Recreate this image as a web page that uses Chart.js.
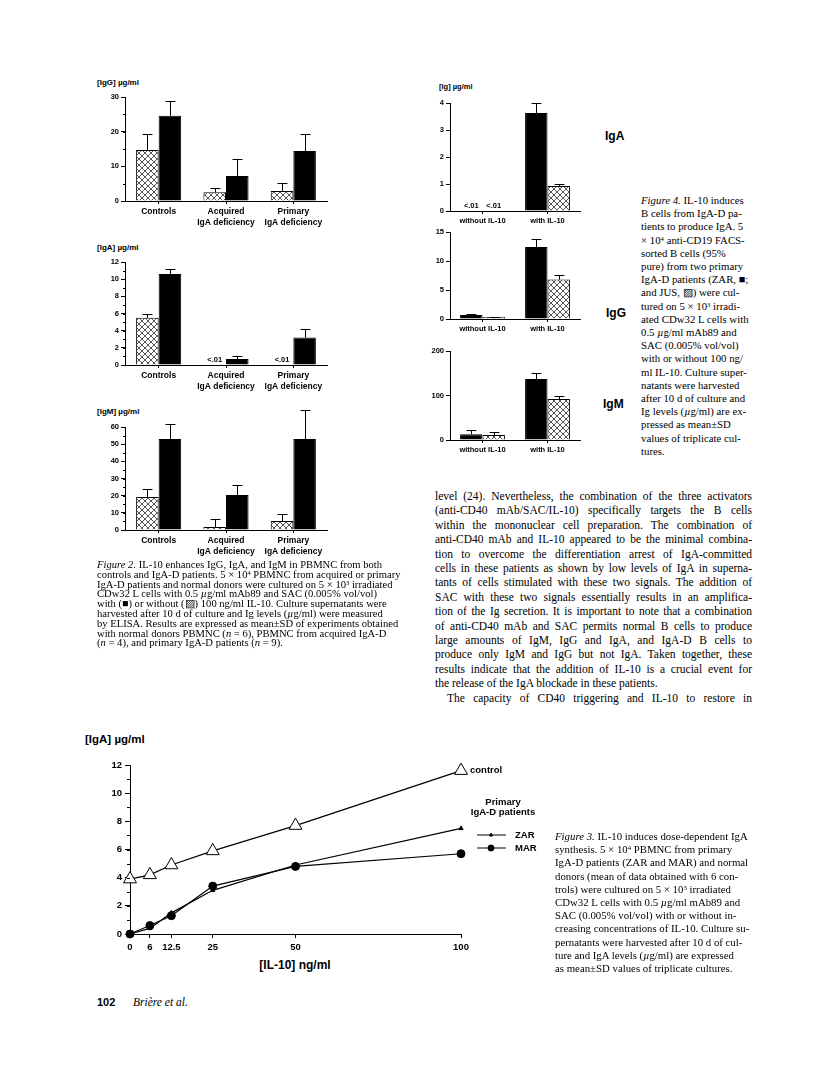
<!DOCTYPE html>
<html>
<head>
<meta charset="utf-8">
<script src="https://cdn.jsdelivr.net/npm/chart.js@4.4.1/dist/chart.umd.min.js"></script>
<style>
body { margin: 0; background: #fff; }
#page { position: relative; width: 816px; height: 1078px; overflow: hidden; background: #fff; }
canvas { position: absolute; }
.lbl { position: absolute; font-family: "Liberation Sans", Arial, sans-serif; font-weight: bold; color: #000; white-space: nowrap; line-height: 1; }
.col { position: absolute; font-family: "Liberation Serif", "Times New Roman", serif; color: #000; }
.col div { white-space: nowrap; }
sup { font-size: 0.62em; vertical-align: 0.5em; line-height: 0; }
</style>
</head>
<body>
<div id="page">

<div class="lbl" style="left:97px;top:79px;font-size:8px">[IgG] µg/ml</div>
<div class="lbl" style="left:97px;top:244px;font-size:8px">[IgA] µg/ml</div>
<div class="lbl" style="left:97px;top:408px;font-size:8px">[IgM] µg/ml</div>
<div class="lbl" style="left:439px;top:83px;font-size:7.5px">[Ig] µg/ml</div>
<div class="lbl" style="left:605px;top:130px;font-size:12px">IgA</div>
<div class="lbl" style="left:606px;top:307px;font-size:12px">IgG</div>
<div class="lbl" style="left:603px;top:398px;font-size:12px">IgM</div>
<div class="lbl" style="left:85px;top:734px;font-size:11.5px">[IgA] µg/ml</div>
<div class="lbl" style="left:235px;top:959px;width:120px;text-align:center;font-size:12px">[IL-10] ng/ml</div>

<canvas id="igg-left"></canvas>
<canvas id="iga-left"></canvas>
<canvas id="igm-left"></canvas>
<canvas id="iga-right"></canvas>
<canvas id="igg-right"></canvas>
<canvas id="igm-right"></canvas>
<canvas id="dose"></canvas>

<div class="col ragged" style="left:97px;top:560px;width:312px;font-size:10.6px;line-height:9.8px">
<div><i>Figure 2.</i> IL-10 enhances IgG, IgA, and IgM in PBMNC from both</div>
<div>controls and IgA-D patients. 5 × 10<sup>4</sup> PBMNC from acquired or primary</div>
<div>IgA-D patients and normal donors were cultured on 5 × 10<sup>3</sup> irradiated</div>
<div>CDw32 L cells with 0.5 <i>µ</i>g/ml mAb89 and SAC (0.005% vol/vol)</div>
<div>with (■) or without (▨) 100 ng/ml IL-10. Culture supernatants were</div>
<div>harvested after 10 d of culture and Ig levels (<i>µ</i>g/ml) were measured</div>
<div>by ELISA. Results are expressed as mean±SD of experiments obtained</div>
<div>with normal donors PBMNC (<i>n</i> = 6), PBMNC from acquired IgA-D</div>
<div>(<i>n</i> = 4), and primary IgA-D patients (<i>n</i> = 9).</div>
</div>

<div class="col ragged" style="left:641px;top:194px;width:112px;font-size:10.8px;line-height:13.2px">
<div><i>Figure 4.</i> IL-10 induces</div>
<div>B cells from IgA-D pa-</div>
<div>tients to produce IgA. 5</div>
<div>× 10<sup>4</sup> anti-CD19 FACS-</div>
<div>sorted B cells (95%</div>
<div>pure) from two primary</div>
<div>IgA-D patients (ZAR, ■;</div>
<div>and JUS, ▨) were cul-</div>
<div>tured on 5 × 10<sup>3</sup> irradi-</div>
<div>ated CDw32 L cells with</div>
<div>0.5 <i>µ</i>g/ml mAb89 and</div>
<div>SAC (0.005% vol/vol)</div>
<div>with or without 100 ng/</div>
<div>ml IL-10. Culture super-</div>
<div>natants were harvested</div>
<div>after 10 d of culture and</div>
<div>Ig levels (<i>µ</i>g/ml) are ex-</div>
<div>pressed as mean±SD</div>
<div>values of triplicate cul-</div>
<div>tures.</div>
</div>

<div class="col" style="left:435px;top:489px;width:317px;font-size:11.5px;line-height:14.4px">
<div>level (24). Nevertheless, the combination of the three activators</div>
<div>(anti-CD40 mAb/SAC/IL-10) specifically targets the B cells</div>
<div>within the mononuclear cell preparation. The combination of</div>
<div>anti-CD40 mAb and IL-10 appeared to be the minimal combina-</div>
<div>tion to overcome the differentiation arrest of IgA-committed</div>
<div>cells in these patients as shown by low levels of IgA in superna-</div>
<div>tants of cells stimulated with these two signals. The addition of</div>
<div>SAC with these two signals essentially results in an amplifica-</div>
<div>tion of the Ig secretion. It is important to note that a combination</div>
<div>of anti-CD40 mAb and SAC permits normal B cells to produce</div>
<div>large amounts of IgM, IgG and IgA, and IgA-D B cells to</div>
<div>produce only IgM and IgG but not IgA. Taken together, these</div>
<div>results indicate that the addition of IL-10 is a crucial event for</div>
<div class="end">the release of the IgA blockade in these patients.</div>
<div style="padding-left:12px">The capacity of CD40 triggering and IL-10 to restore in</div>
</div>

<div class="col ragged" style="left:555px;top:830px;width:200px;font-size:10.8px;line-height:13.2px">
<div><i>Figure 3.</i> IL-10 induces dose-dependent IgA</div>
<div>synthesis. 5 × 10<sup>4</sup> PBMNC from primary</div>
<div>IgA-D patients (ZAR and MAR) and normal</div>
<div>donors (mean of data obtained with 6 con-</div>
<div>trols) were cultured on 5 × 10<sup>3</sup> irradiated</div>
<div>CDw32 L cells with 0.5 <i>µ</i>g/ml mAb89 and</div>
<div>SAC (0.005% vol/vol) with or without in-</div>
<div>creasing concentrations of IL-10. Culture su-</div>
<div>pernatants were harvested after 10 d of cul-</div>
<div>ture and IgA levels (<i>µ</i>g/ml) are expressed</div>
<div>as mean±SD values of triplicate cultures.</div>
</div>

<div class="lbl" style="left:97px;top:997px;font-size:11px">102</div>
<div class="col ragged" style="left:133px;top:995px;font-size:11.5px;line-height:14px"><i>Brière et al.</i></div>

</div>

<script>
// Figure 2: PBMNC with / without IL-10 (mean and SD, µg/ml)
const groups = [['Controls'], ['Acquired', 'IgA deficiency'], ['Primary', 'IgA deficiency']];

const iggWithout = [14.7, 2.5, 2.9];
const iggWithoutSd = [4.6, 1.2, 2.2];
const iggWith = [24.6, 7.2, 14.4];
const iggWithSd = [4.2, 4.8, 5.0];

const igaWithout = [5.5, null, null];
const igaWithoutSd = [0.4, null, null];
const igaWithoutNotes = [null, '<.01', '<.01'];
const igaWith = [10.6, 0.7, 3.2];
const igaWithSd = [0.6, 0.35, 1.0];

const igmWithout = [19.2, 1.7, 5.2];
const igmWithoutSd = [4.7, 4.7, 4.1];
const igmWith = [53, 20.4, 53];
const igmWithSd = [8.7, 5.8, 17];

// Figure 4: sorted B cells, ZAR (black) and JUS (hatched)
const conditions = ['without IL-10', 'with IL-10'];

const igaZar = [null, 3.63];
const igaZarSd = [null, 0.37];
const igaJus = [null, 0.93];
const igaJusSd = [null, 0.07];
const igaLowNotes = ['<.01', null];

const iggZar = [0.7, 12.4];
const iggZarSd = [0.1, 1.4];
const iggJus = [0.35, 6.8];
const iggJusSd = [0.05, 0.8];

const igmZar = [13, 137];
const igmZarSd = [9, 13];
const igmJus = [11, 92];
const igmJusSd = [8, 7];

// Figure 3: IgA vs IL-10 dose
const doses = [0, 6, 12.5, 25, 50, 100];
const doseTicks = [0, 6, 12.5, 25, 50, 100];
const controlIga = [3.9, 4.2, 4.9, 5.9, 7.7, 11.6];
const zarIga = [0, 0.4, 1.5, 3.1, 4.9, 7.5];
const marIga = [0, 0.6, 1.3, 3.4, 4.8, 5.7];

const SANS = '"Liberation Sans", Arial, sans-serif';

function hatchPattern() {
    const t = document.createElement('canvas');
    t.width = t.height = 6;
    const g = t.getContext('2d');
    g.fillStyle = '#fff';
    g.fillRect(0, 0, 6, 6);
    g.fillStyle = '#555';
    for (let i = 0; i < 6; i++) {
        g.fillRect(i, i, 1, 1);
        g.fillRect(5 - i, i, 1, 1);
    }
    return t.getContext('2d').createPattern(t, 'repeat');
}
const hatch = hatchPattern();

const errorBars = {
    id: 'errorBars',
    afterDatasetsDraw(chart) {
        const ctx = chart.ctx, y = chart.scales.y;
        ctx.save();
        ctx.strokeStyle = '#000';
        ctx.lineWidth = 1;
        chart.data.datasets.forEach((ds, i) => {
            if (!ds.errors) return;
            chart.getDatasetMeta(i).data.forEach((bar, j) => {
                const v = ds.data[j], e = ds.errors[j];
                if (v == null || e == null) return;
                const top = Math.round(y.getPixelForValue(v + e)) + 0.5;
                const base = y.getPixelForValue(v);
                const x = Math.round(bar.x) + 0.5;
                const half = bar.width * 0.22;
                ctx.beginPath();
                ctx.moveTo(x, base);
                ctx.lineTo(x, top);
                ctx.moveTo(x - half, top);
                ctx.lineTo(x + half, top);
                ctx.stroke();
            });
        });
        ctx.restore();
    }
};

const lowNotes = {
    id: 'lowNotes',
    afterDatasetsDraw(chart, args, opts) {
        const ctx = chart.ctx, y = chart.scales.y;
        ctx.save();
        ctx.fillStyle = '#000';
        ctx.font = 'bold ' + (opts.size || 8) + 'px ' + SANS;
        ctx.textAlign = 'center';
        ctx.textBaseline = 'bottom';
        chart.data.datasets.forEach((ds, i) => {
            if (!ds.notes) return;
            chart.getDatasetMeta(i).data.forEach((bar, j) => {
                if (ds.notes[j]) ctx.fillText(ds.notes[j], bar.x, y.bottom - 1);
            });
        });
        ctx.restore();
    }
};

const minorTicks = {
    id: 'minorTicks',
    afterDraw(chart, args, opts) {
        if (!opts.step) return;
        const s = chart.scales.y, ctx = chart.ctx;
        ctx.save();
        ctx.strokeStyle = '#000';
        ctx.lineWidth = 1;
        for (let v = s.min; v <= s.max + 1e-9; v += opts.step) {
            const py = Math.round(s.getPixelForValue(v)) + 0.5;
            ctx.beginPath();
            ctx.moveTo(s.right - (opts.len || 2), py);
            ctx.lineTo(s.right, py);
            ctx.stroke();
        }
        ctx.restore();
    }
};

function drawBars(id, box, cfg) {
    const cv = document.getElementById(id);
    const padTop = 22, padRight = 10, yW = 40, xH = 34;
    cv.width = box.r - box.l + yW + padRight;
    cv.height = box.b - box.t + padTop + xH;
    cv.style.left = (box.l - yW) + 'px';
    cv.style.top = (box.t - padTop) + 'px';

    new Chart(cv.getContext('2d'), {
        type: 'bar',
        data: { labels: cfg.labels, datasets: cfg.sets },
        options: {
            responsive: false,
            animation: false,
            layout: { padding: { top: padTop, right: padRight, left: 0, bottom: 0 } },
            datasets: { bar: { categoryPercentage: cfg.catPct, barPercentage: 1 } },
            plugins: {
                legend: { display: false },
                tooltip: { enabled: false },
                minorTicks: { step: cfg.minor, len: 2 },
                lowNotes: { size: cfg.tickFont }
            },
            scales: {
                x: {
                    afterFit: s => { s.height = xH; },
                    grid: { drawOnChartArea: false, offset: false, tickLength: 3, color: '#000' },
                    border: { color: '#000', width: 1 },
                    ticks: {
                        color: '#000', padding: 2, maxRotation: 0, autoSkip: false,
                        font: { family: SANS, size: cfg.catFont, weight: 'bold', lineHeight: 1.3 }
                    }
                },
                y: {
                    min: 0,
                    max: cfg.max,
                    afterFit: s => { s.width = yW; },
                    grid: { drawOnChartArea: false, tickLength: 4, color: '#000' },
                    border: { color: '#000', width: 1 },
                    ticks: {
                        stepSize: cfg.step, color: '#000', padding: 2,
                        font: { family: SANS, size: cfg.tickFont, weight: 'bold' }
                    }
                }
            }
        },
        plugins: [minorTicks, errorBars, lowNotes]
    });
}

const hatched = { backgroundColor: hatch, borderColor: '#000', borderWidth: 1 };
const solid = { backgroundColor: '#000', borderColor: '#000', borderWidth: 1 };

// left column (Figure 2)
const leftCols = { l: 125, r: 327 };
drawBars('igg-left', { ...leftCols, t: 97, b: 201 }, {
    labels: groups, max: 30, step: 10, minor: 5, tickFont: 7.5, catFont: 8.5, catPct: 0.67,
    sets: [
        { ...hatched, data: iggWithout, errors: iggWithoutSd },
        { ...solid, data: iggWith, errors: iggWithSd }
    ]
});
drawBars('iga-left', { ...leftCols, t: 262, b: 365 }, {
    labels: groups, max: 12, step: 2, minor: 1, tickFont: 7.5, catFont: 8.5, catPct: 0.67,
    sets: [
        { ...hatched, data: igaWithout, errors: igaWithoutSd, notes: igaWithoutNotes },
        { ...solid, data: igaWith, errors: igaWithSd }
    ]
});
drawBars('igm-left', { ...leftCols, t: 427, b: 530 }, {
    labels: groups, max: 60, step: 10, minor: 5, tickFont: 7.5, catFont: 8.5, catPct: 0.67,
    sets: [
        { ...hatched, data: igmWithout, errors: igmWithoutSd },
        { ...solid, data: igmWith, errors: igmWithSd }
    ]
});

// right column (Figure 4)
const rightCols = { l: 450, r: 580 };
drawBars('iga-right', { ...rightCols, t: 103, b: 211 }, {
    labels: conditions, max: 4, step: 1, minor: 0, tickFont: 7.5, catFont: 7.5, catPct: 0.69,
    sets: [
        { ...solid, data: igaZar, errors: igaZarSd, notes: igaLowNotes },
        { ...hatched, data: igaJus, errors: igaJusSd, notes: igaLowNotes }
    ]
});
drawBars('igg-right', { ...rightCols, t: 232, b: 319 }, {
    labels: conditions, max: 15, step: 5, minor: 0, tickFont: 7.5, catFont: 7.5, catPct: 0.69,
    sets: [
        { ...solid, data: iggZar, errors: iggZarSd },
        { ...hatched, data: iggJus, errors: iggJusSd }
    ]
});
drawBars('igm-right', { ...rightCols, t: 351, b: 440 }, {
    labels: conditions, max: 200, step: 100, minor: 0, tickFont: 7.5, catFont: 7.5, catPct: 0.69,
    sets: [
        { ...solid, data: igmZar, errors: igmZarSd },
        { ...hatched, data: igmJus, errors: igmJusSd }
    ]
});

// Figure 3 line chart
const endLabels = {
    id: 'endLabels',
    afterDatasetsDraw(chart) {
        const ctx = chart.ctx;
        ctx.save();
        ctx.fillStyle = '#000';
        ctx.font = 'bold 9.5px ' + SANS;
        ctx.textBaseline = 'middle';
        chart.data.datasets.forEach((ds, i) => {
            if (!ds.endLabel) return;
            const pts = chart.getDatasetMeta(i).data;
            const p = pts[pts.length - 1];
            ctx.fillText(ds.endLabel, p.x + 9, p.y);
        });
        ctx.restore();
    }
};

const patientLegend = {
    id: 'patientLegend',
    afterDraw(chart, args, opts) {
        const ctx = chart.ctx, a = chart.chartArea;
        const cx = a.right + 42;
        ctx.save();
        ctx.fillStyle = '#000';
        ctx.strokeStyle = '#000';
        ctx.font = 'bold 9.5px ' + SANS;
        ctx.textAlign = 'center';
        ctx.textBaseline = 'middle';
        opts.title.forEach((t, k) => ctx.fillText(t, cx, a.top + 37 + k * 10));
        let row = 0;
        chart.data.datasets.forEach(ds => {
            if (!ds.legendLabel) return;
            const y = a.top + 70 + row * 13;
            ctx.lineWidth = 1;
            ctx.beginPath();
            ctx.moveTo(a.right + 16, y);
            ctx.lineTo(a.right + 45, y);
            ctx.stroke();
            Chart.helpers.drawPoint(ctx, {
                pointStyle: ds.pointStyle, radius: ds.pointRadius * 0.75, borderWidth: 1
            }, a.right + 30, y);
            ctx.fill();
            ctx.textAlign = 'left';
            ctx.fillText(ds.legendLabel, a.right + 54, y);
            row++;
        });
        ctx.restore();
    }
};

(function () {
    const cv = document.getElementById('dose');
    const box = { l: 130, r: 461, t: 765, b: 934 };
    const yW = 50, padTop = 20, padRight = 109, xH = 26;
    cv.width = box.r - box.l + yW + padRight;
    cv.height = box.b - box.t + padTop + xH;
    cv.style.left = (box.l - yW) + 'px';
    cv.style.top = (box.t - padTop) + 'px';

    const pts = vals => doses.map((d, i) => ({ x: d, y: vals[i] }));
    const line = { borderColor: '#000', borderWidth: 1.2, tension: 0, clip: false, pointBorderColor: '#000', pointBorderWidth: 1 };

    new Chart(cv.getContext('2d'), {
        type: 'line',
        data: {
            datasets: [
                { ...line, data: pts(controlIga), pointStyle: 'triangle', pointRadius: 7.5, pointBackgroundColor: '#fff', endLabel: 'control' },
                { ...line, data: pts(zarIga), pointStyle: 'triangle', pointRadius: 2.5, pointBackgroundColor: '#000', legendLabel: 'ZAR' },
                { ...line, data: pts(marIga), pointStyle: 'circle', pointRadius: 4, pointBackgroundColor: '#000', legendLabel: 'MAR' }
            ]
        },
        options: {
            responsive: false,
            animation: false,
            layout: { padding: { top: padTop, right: padRight, left: 0, bottom: 0 } },
            plugins: {
                legend: { display: false },
                tooltip: { enabled: false },
                minorTicks: { step: 1, len: 3 },
                patientLegend: { title: ['Primary', 'IgA-D patients'] }
            },
            scales: {
                x: {
                    type: 'linear', min: 0, max: 100,
                    afterBuildTicks: s => { s.ticks = doseTicks.map(v => ({ value: v })); },
                    afterFit: s => { s.height = xH; },
                    grid: { drawOnChartArea: false, tickLength: 4, color: '#000' },
                    border: { color: '#000', width: 1 },
                    ticks: { color: '#000', padding: 4, maxRotation: 0, autoSkip: false,
                        font: { family: SANS, size: 9.5, weight: 'bold' } }
                },
                y: {
                    min: 0, max: 12,
                    afterFit: s => { s.width = yW; },
                    grid: { drawOnChartArea: false, tickLength: 5, color: '#000' },
                    border: { color: '#000', width: 1 },
                    ticks: { stepSize: 2, color: '#000', padding: 3,
                        font: { family: SANS, size: 9.5, weight: 'bold' } }
                }
            }
        },
        plugins: [minorTicks, endLabels, patientLegend]
    });
})();

// fit the typeset lines to their column: justify body text, keep captions ragged
document.querySelectorAll('.col').forEach(col => {
    const W = col.clientWidth;
    if (!W) return;
    const ragged = col.classList.contains('ragged');
    col.querySelectorAll('div').forEach(line => {
        const span = document.createElement('span');
        while (line.firstChild) span.appendChild(line.firstChild);
        line.appendChild(span);
        const avail = W - (parseFloat(line.style.paddingLeft) || 0);
        const w = span.getBoundingClientRect().width;
        const gaps = (span.textContent.match(/ /g) || []).length;
        if (w > avail) {
            span.style.display = 'inline-block';
            span.style.transformOrigin = '0 0';
            span.style.transform = 'scaleX(' + (avail / w) + ')';
        } else if (!ragged && !line.classList.contains('end') && gaps) {
            line.style.wordSpacing = ((avail - w) / gaps) + 'px';
        }
    });
});
</script>
</body>
</html>
